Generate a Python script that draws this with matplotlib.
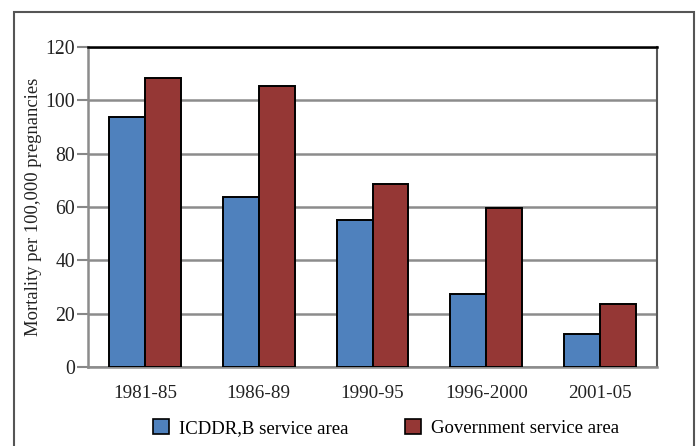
import numpy as np
import matplotlib.pyplot as plt
from matplotlib.patches import Rectangle, Patch

periods = ['1981-85', '1986-89', '1990-95', '1996-2000', '2001-05']
icddrb = [93.8, 63.8, 55.0, 27.5, 12.5]
government = [108.3, 105.3, 68.5, 59.7, 23.5]

plt.rcParams['font.family'] = ['Liberation Serif', 'DejaVu Serif']

fig = plt.figure(figsize=(6.99, 4.46), dpi=100)
ax = fig.add_axes([88 / 699, 1 - 367 / 446, 569 / 699, 320 / 446])

x = np.arange(len(periods))
w = 0.315
ax.bar(x - w / 2, icddrb, w, color='#4F81BD', edgecolor='black', linewidth=1.4,
       label='ICDDR,B service area', zorder=3)
ax.bar(x + w / 2, government, w, color='#953735', edgecolor='black', linewidth=1.4,
       label='Government service area', zorder=3)

ax.set_xlim(-0.5, len(periods) - 0.5)
ax.set_ylim(0, 120)
ax.set_yticks(range(0, 121, 20))
ax.set_xticks(x)
ax.set_xticklabels(periods)
ax.tick_params(axis='x', length=0, labelsize=13.8, pad=13, colors='#222222')
ax.tick_params(axis='y', length=8, width=1.5, color='#888888', labelsize=14.2,
               pad=1.5, labelcolor='#222222')
ax.yaxis.grid(True, color='#8c8c8c', linewidth=1.8, zorder=0)
ax.set_axisbelow(True)

for side in ['left', 'bottom']:
    ax.spines[side].set_color('#8c8c8c')
    ax.spines[side].set_linewidth(1.8)
ax.spines['top'].set_color('black')
ax.spines['top'].set_linewidth(1.8)
ax.spines['right'].set_color('#555555')
ax.spines['right'].set_linewidth(1.5)
ax.spines['top'].set_zorder(4)

ax.set_ylabel('Mortality per 100,000 pregnancies', fontsize=13.4, color='#222222',
              labelpad=2)

handles = [Patch(facecolor='#4F81BD', edgecolor='black', linewidth=1.2),
           Patch(facecolor='#953735', edgecolor='black', linewidth=1.2)]
fig.legend(handles, ['ICDDR,B service area', 'Government service area'],
           loc='center', bbox_to_anchor=(386 / 699, 1 - 428 / 446), ncol=2,
           frameon=False, fontsize=13.5, handlelength=0.85, handleheight=0.85,
           handletextpad=0.55, columnspacing=3.0)

frame = Rectangle((14 / 699, -0.1), 680 / 699, 1.1 - 12 / 446,
                  transform=fig.transFigure, fill=False, edgecolor='#555555',
                  linewidth=1.5, clip_on=False)
fig.patches.append(frame)

fig.savefig('out.png', dpi=100)
